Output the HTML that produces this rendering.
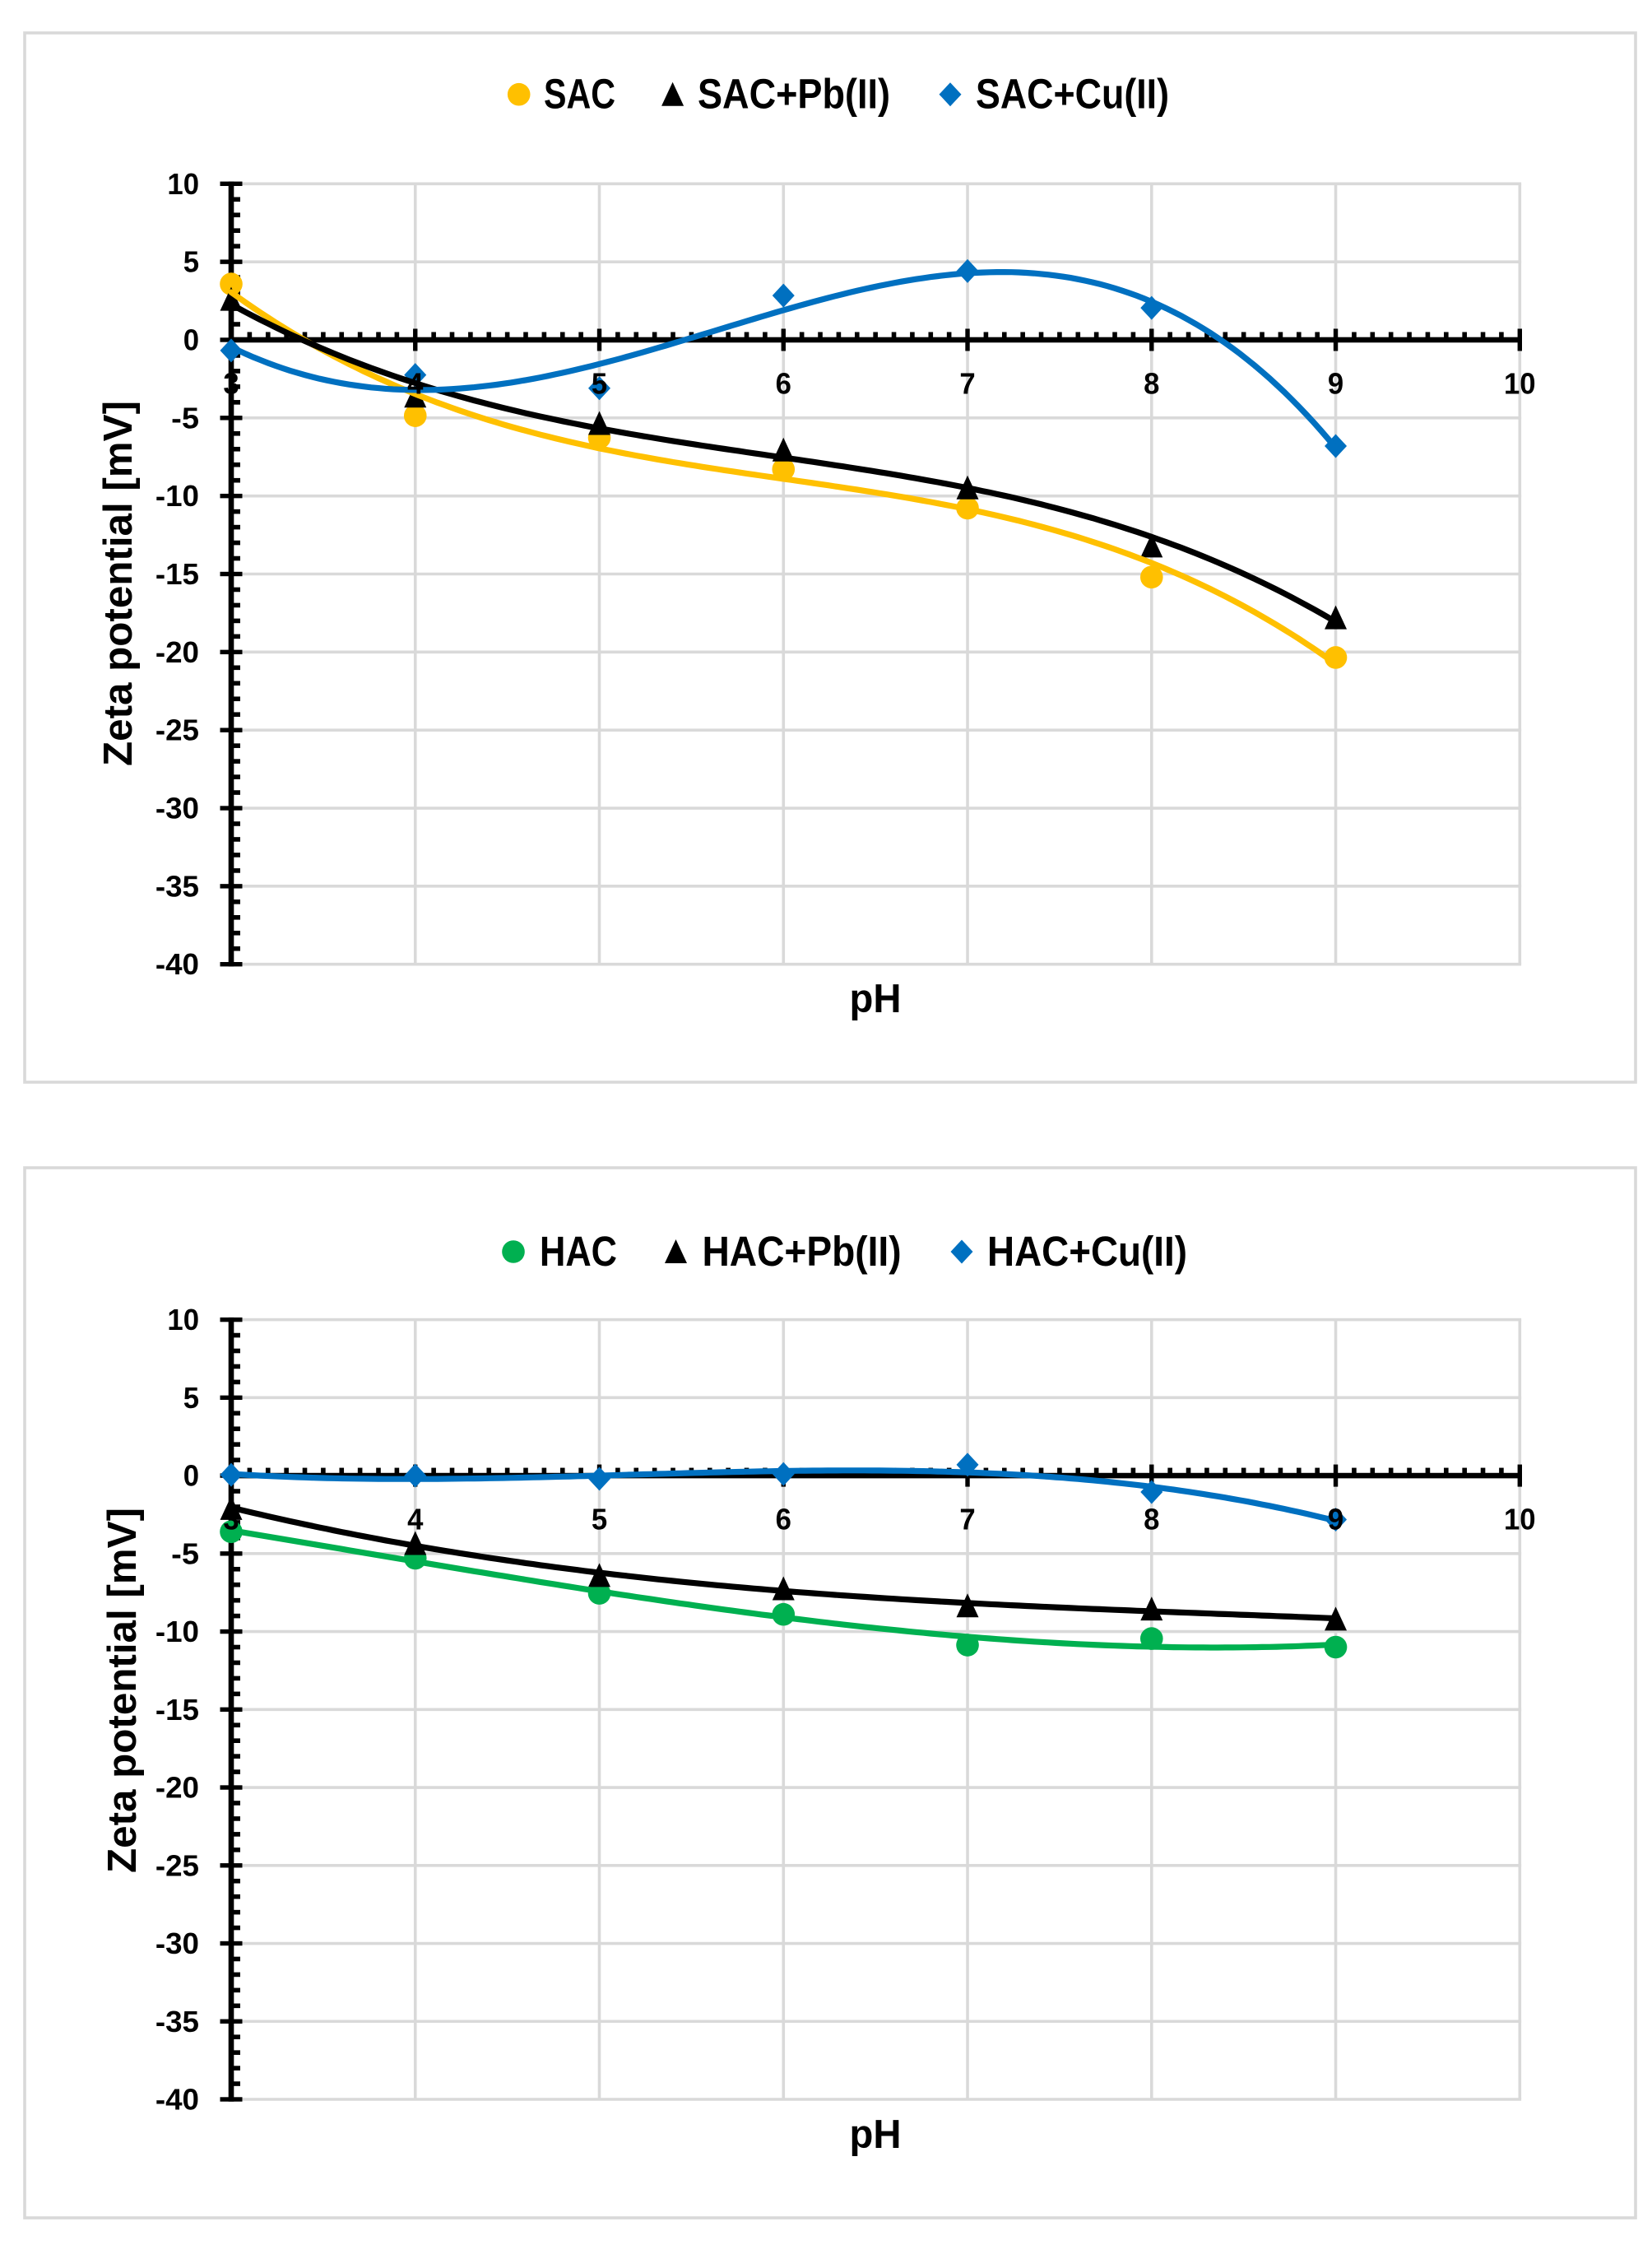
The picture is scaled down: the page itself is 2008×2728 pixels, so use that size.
<!DOCTYPE html>
<html lang="en">
<head>
<meta charset="utf-8">
<title>Zeta potential vs pH</title>
<style>
html,body{margin:0;padding:0;background:#fff;width:2008px;height:2728px;overflow:hidden}
svg{display:block}
text{font-family:"Liberation Sans",sans-serif;font-weight:bold;fill:#000}
</style>
</head>
<body>
<svg id="figure" xmlns="http://www.w3.org/2000/svg" width="2008" height="2728" viewBox="0 0 2008 2728"></svg>
<script>
const phValues = [3, 4, 5, 6, 7, 8, 9];
const xTickLabels = [3, 4, 5, 6, 7, 8, 9, 10];
const yTickLabels = [10, 5, 0, -5, -10, -15, -20, -25, -30, -35, -40];
const sacValues = [3.58, -4.86, -6.27, -8.29, -10.78, -15.2, -20.35];
const sacPbValues = [2.6, -3.6, -5.35, -7.05, -9.48, -13.2, -17.8];
const sacCuValues = [-0.68, -2.25, -3.1, 2.84, 4.41, 2.05, -6.8];
const hacValues = [-3.6, -5.3, -7.55, -8.9, -10.87, -10.45, -11.0];
const hacPbValues = [-2.1, -4.35, -6.4, -7.25, -8.35, -8.55, -9.2];
const hacCuValues = [0.05, 0.0, -0.2, 0.1, 0.7, -1.05, -2.82];

const svgNS = 'http://www.w3.org/2000/svg';
const root = document.getElementById('figure');

function make(parent, tag, attrs, txt) {
  const el = document.createElementNS(svgNS, tag);
  for (const k in attrs) el.setAttribute(k, attrs[k]);
  if (txt !== undefined) el.textContent = txt;
  parent.appendChild(el);
  return el;
}

function tickWidth(label) {
  const s = String(label);
  let w = 0;
  for (let i = 0; i < s.length; i++) w += s[i] === '-' ? 14.5 : 19.3;
  return w;
}

function polyFit(xs, ys, order) {
  const n = order + 1;
  const m = [];
  for (let r = 0; r < n; r++) {
    const row = new Array(n + 1).fill(0);
    for (let c = 0; c < n; c++) {
      for (let i = 0; i < xs.length; i++) row[c] += Math.pow(xs[i] - 6, r + c);
    }
    for (let i = 0; i < xs.length; i++) row[n] += ys[i] * Math.pow(xs[i] - 6, r);
    m.push(row);
  }
  for (let p = 0; p < n; p++) {
    let best = p;
    for (let r = p + 1; r < n; r++) if (Math.abs(m[r][p]) > Math.abs(m[best][p])) best = r;
    const t = m[p]; m[p] = m[best]; m[best] = t;
    for (let r = 0; r < n; r++) {
      if (r === p) continue;
      const f = m[r][p] / m[p][p];
      for (let c = p; c <= n; c++) m[r][c] -= f * m[p][c];
    }
  }
  const coef = [];
  for (let r = 0; r < n; r++) coef.push(m[r][n] / m[r][r]);
  return function (x) {
    let s = 0;
    for (let i = n - 1; i >= 0; i--) s = s * (x - 6) + coef[i];
    return s;
  };
}

function drawMarker(group, kind, cx, cy, color) {
  let el;
  if (kind === 'circle') {
    el = make(group, 'circle', {cx: cx, cy: cy, r: 13.8, fill: color});
  } else if (kind === 'triangle') {
    el = make(group, 'polygon', {points: (cx) + ',' + (cy - 15) + ' ' + (cx + 13.5) + ',' + (cy + 14) + ' ' + (cx - 13.5) + ',' + (cy + 14), fill: color});
  } else {
    el = make(group, 'polygon', {points: cx + ',' + (cy - 14.5) + ' ' + (cx + 13.5) + ',' + cy + ' ' + cx + ',' + (cy + 14.5) + ' ' + (cx - 13.5) + ',' + cy, fill: color});
  }
  return el;
}

function drawChart(p) {
  const xScale = function (v) { return p.left + (v - 3) * (p.right - p.left) / 7; };
  const yScale = function (v) { return p.top + (10 - v) * (p.bottom - p.top) / 50; };

  const chart = make(root, 'g', {});
  
  

  const frame = make(chart, 'rect', {x: p.frame[0], y: p.frame[1], width: p.frame[2] - p.frame[0], height: p.frame[3] - p.frame[1], fill: '#fff', stroke: '#d9d9d9', 'stroke-width': 3.6});
  
  

  const grid = make(chart, 'g', {stroke: '#d9d9d9', 'stroke-width': 3.6});
  
  
  yTickLabels.forEach(function (v) {
    make(grid, 'line', {x1: p.left, x2: p.right + 1.8, y1: yScale(v), y2: yScale(v)});
  });
  xTickLabels.forEach(function (v) {
    make(grid, 'line', {x1: xScale(v), x2: xScale(v), y1: p.top, y2: p.bottom});
  });

  const axes = make(chart, 'g', {fill: '#000'});
  
  
  const zero = yScale(0);
  for (let i = 1; i < 70; i++) {
    if (i % 10 === 0) continue;
    make(axes, 'rect', {x: xScale(3 + i / 10) - 2.8, y: zero - 9.5, width: 5.6, height: 9.5});
  }
  for (let v = -40; v <= 10; v++) {
    if (v % 5 === 0) continue;
    make(axes, 'rect', {x: p.left, y: yScale(v) - 2.8, width: 11, height: 5.6});
  }
  yTickLabels.forEach(function (v) {
    make(axes, 'rect', {x: p.left - 13.5, y: yScale(v) - 2.7, width: 27, height: 5.4});
  });
  xTickLabels.forEach(function (v) {
    make(axes, 'rect', {x: xScale(v) - 2.7, y: zero - 13.5, width: 5.4, height: 27});
  });
  make(axes, 'rect', {x: p.left - 3.3, y: p.top - 2.7, width: 6.6, height: p.bottom - p.top + 5.4});
  make(axes, 'rect', {x: p.left, y: zero - 3.3, width: p.right - p.left, height: 6.6});

  const markers = make(chart, 'g', {});
  
  
  p.series.forEach(function (s) {
    s.values.forEach(function (v, i) {
      const m = drawMarker(markers, s.kind, xScale(phValues[i]), yScale(v), s.color);
      
      
    });
  });

  p.series.forEach(function (s) {
    const fit = polyFit(phValues, s.values, s.order);
    const first = phValues[0];
    const last = phValues[phValues.length - 1];
    const pts = [];
    for (let i = 0; i <= 150; i++) {
      const x = first + (last - first) * i / 150;
      pts.push(xScale(x).toFixed(1) + ',' + yScale(fit(x)).toFixed(1));
    }
    const line = make(chart, 'polyline', {points: pts.join(' '), fill: 'none', stroke: s.color, 'stroke-width': 7.2, 'stroke-linecap': 'round'});
    
    
  });

  const xLabels = make(chart, 'g', {'font-size': 36, 'text-anchor': 'middle'});
  
  
  xTickLabels.forEach(function (v) {
    make(xLabels, 'text', {x: xScale(v), y: zero + 65.5, textLength: tickWidth(v), lengthAdjust: 'spacingAndGlyphs'}, String(v));
  });

  const yLabels = make(chart, 'g', {'font-size': 36, 'text-anchor': 'end'});
  
  
  yTickLabels.forEach(function (v) {
    make(yLabels, 'text', {x: 242, y: yScale(v) + 12.5, textLength: tickWidth(v), lengthAdjust: 'spacingAndGlyphs'}, String(v));
  });

  const xTitle = make(chart, 'text', {x: p.xTitle[0], y: p.xTitle[1], 'font-size': 49, 'text-anchor': 'middle', textLength: 63, lengthAdjust: 'spacingAndGlyphs'}, 'pH');
  
  

  const yTitle = make(chart, 'text', {
    transform: 'translate(' + p.yTitle[0] + ',' + p.yTitle[1] + ') rotate(-90)',
    'font-size': 49, 'text-anchor': 'middle', textLength: 444, lengthAdjust: 'spacingAndGlyphs'
  }, 'Zeta potential [mV]');
  
  

  const legend = make(chart, 'g', {});
  
  
  p.series.forEach(function (s) {
    const lm = drawMarker(legend, s.kind, s.legend[0], p.legendY, s.color);
    
    
    const lt = make(legend, 'text', {x: s.legend[1], y: p.legendY + 17, 'font-size': 51, textLength: s.legend[2] - s.legend[1], lengthAdjust: 'spacingAndGlyphs'}, s.label);
    
    
  });
}

drawChart({
  name: 'sac-zeta-potential-chart',
  left: 281, right: 1847.3, top: 223.3, bottom: 1171.7,
  frame: [30, 40, 1988, 1315],
  xTitle: [1064, 1230], yTitle: [160, 709], legendY: 114.7,
  series: [
    {key: 'sac', label: 'SAC', kind: 'circle', color: '#FFC000', values: sacValues, order: 3, legend: [630.7, 661, 748]},
    {key: 'sac-pb', label: 'SAC+Pb(II)', kind: 'triangle', color: '#000000', values: sacPbValues, order: 3, legend: [817.6, 848, 1082]},
    {key: 'sac-cu', label: 'SAC+Cu(II)', kind: 'diamond', color: '#0070C0', values: sacCuValues, order: 4, legend: [1155, 1186, 1421]}
  ]
});

drawChart({
  name: 'hac-zeta-potential-chart',
  left: 281, right: 1847.3, top: 1603.6, bottom: 2551,
  frame: [30, 1419, 1988, 2695],
  xTitle: [1064, 2610], yTitle: [165, 2054], legendY: 1521,
  series: [
    {key: 'hac', label: 'HAC', kind: 'circle', color: '#00B050', values: hacValues, order: 3, legend: [624, 656, 750]},
    {key: 'hac-pb', label: 'HAC+Pb(II)', kind: 'triangle', color: '#000000', values: hacPbValues, order: 3, legend: [821.5, 853.5, 1095.6]},
    {key: 'hac-cu', label: 'HAC+Cu(II)', kind: 'diamond', color: '#0070C0', values: hacCuValues, order: 4, legend: [1169, 1200, 1443]}
  ]
});
</script>
</body>
</html>
